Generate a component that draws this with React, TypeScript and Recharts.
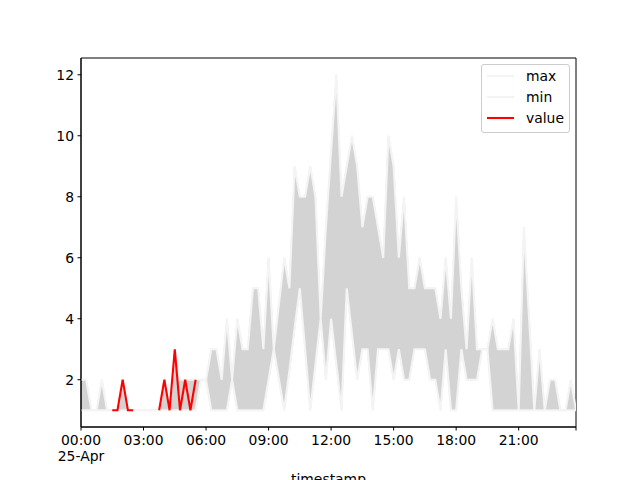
import React from 'react';
import { ComposedChart, Area, Line, XAxis, YAxis, ReferenceArea } from 'recharts';

// 15-minute slots, 25-Apr 00:00 .. 23:45 (index 0..95)
const maxVals = [
  2, 2, 1, 1, 2, 1, 1, 1, 2, 1,
  1, 1, 1, 1, 1, 1, 2, 1, 3, 2,
  2, 2, 2, 2, 2, 3, 3, 2, 4, 2,
  4, 3, 3, 5, 5, 3, 6, 3, 4.5, 6,
  5, 9, 8, 8, 9, 8, 4, 7, 9.5, 12,
  8, 9, 10, 9, 7, 8, 8, 7, 6, 10,
  9, 6, 8, 5, 5, 6, 5, 5, 5, 4,
  6, 4, 8, 5, 3, 6, 3, 3, 3, 4,
  3, 3, 3, 4, 1, 7, 4, 1, 3, 1,
  2, 2, 1, 1, 2, 1,
];

const minVals = [
  1, 1, 1, 1, 1, 1, 1, 1, 1, 1,
  1, 1, 1, 1, 1, 1, 1, 1, 1, 1,
  1, 1, 1, 2, 2, 1, 1, 1, 1, 2,
  1, 1, 1, 1, 1, 1, 2, 3, 2, 1,
  2.3, 3.7, 5, 3, 1, 2.5, 4, 2, 4, 2.5,
  1, 5, 3.5, 2, 3, 3, 1, 3, 3, 3,
  2, 3, 2, 2, 3, 3, 3, 2, 2, 1,
  3, 1, 1, 3, 2, 2, 2, 3, 3, 1,
  1, 1, 1, 1, 1, 1, 1, 1, 1, 1,
  1, 1, 1, 1, 1, 1,
];

const N = null;
const values = [
  N, N, N, N, N, N, 1, 1, 2, 1,
  1, N, N, N, N, 1, 2, 1, 3, 1,
  2, 1, 2, N, N, N, N, N, N, N,
  N, N, N, N, N, N, N, N, N, N,
  N, N, N, N, N, N, N, N, N, N,
  N, N, N, N, N, N, N, N, N, N,
  N, N, N, N, N, N, N, N, N, N,
  N, N, N, N, N, N, N, N, N, N,
  N, N, N, N, N, N, N, N, N, N,
  N, N, N, N, N, N,
];

const xTicks = [0, 12, 24, 36, 48, 60, 72, 84, 95];
const xTickLabels = ['00:00\n25-Apr', '03:00', '06:00', '09:00', '12:00', '15:00', '18:00', '21:00', ''];
const yTicks = [2, 4, 6, 8, 10, 12];
const yDomain = [0.45, 12.55];
const xDomain = [0, 95];

const legendItems = [
  { name: 'max', color: '#f4f4f4' },
  { name: 'min', color: '#f4f4f4' },
  { name: 'value', color: '#ff0000' },
];

const data = maxVals.map((mx, i) => ({
  t: i,
  max: mx,
  min: minVals[i],
  range: [minVals[i], mx],
  value: values[i],
}));

const FONT = 'DejaVu Sans, sans-serif';
const FS = 13.9;

const XTick = (props: any) => {
  const { x, y, payload } = props;
  const idx = xTicks.indexOf(payload.value);
  const label = idx >= 0 ? xTickLabels[idx] : '';
  const lines = label.split('\n');
  return (
    <text x={x} y={y} textAnchor="middle" fontFamily={FONT} fontSize={FS} fill="#000">
      {lines.map((l, k) => (
        <tspan key={k} x={x} dy={k === 0 ? '0.76em' : '1.2em'}>{l}</tspan>
      ))}
    </text>
  );
};

const YTick = (props: any) => {
  const { x, y, payload } = props;
  return (
    <text x={x} y={y} textAnchor="end" dy="0.36em" fontFamily={FONT} fontSize={FS} fill="#000">
      {payload.value}
    </text>
  );
};

const LegendBox = () => (
  <svg width={90} height={70} style={{ display: 'block' }}>
    <rect x={0.5} y={0.5} width={88} height={68} rx={2.5} fill="rgba(255,255,255,0.8)" stroke="#cccccc" />
    {legendItems.map((it, k) => (
      <g key={it.name}>
        <line x1={6} x2={33} y1={12 + k * 21} y2={12 + k * 21} stroke={it.color} strokeWidth={2.08} />
        <text x={45} y={12 + k * 21} dy="0.36em" fontFamily={FONT} fontSize={FS} fill="#000">{it.name}</text>
      </g>
    ))}
  </svg>
);

export default function App() {
  return (
    <div style={{ position: 'absolute', left: 0, top: 0, width: 640, height: 480, background: '#fff', overflow: 'hidden' }}>
      <ComposedChart width={640} height={480} data={data} margin={{ top: 58, right: 64, bottom: 0, left: 31 }}>
        <XAxis
          dataKey="t"
          type="number"
          domain={xDomain}
          ticks={xTicks}
          interval={0}
          tick={<XTick />}
          tickSize={3.5}
          tickMargin={3.5}
          height={53}
          axisLine={{ stroke: '#000', strokeWidth: 1 }}
          tickLine={{ stroke: '#000', strokeWidth: 1 }}
          allowDataOverflow
          label={(p: any) => {
            const vb = p.viewBox || {};
            return (
              <text x={(vb.x ?? 81) + (vb.width ?? 495) / 2} y={484} textAnchor="middle" fontFamily={FONT} fontSize={FS} fill="#000">
                timestamp
              </text>
            );
          }}
        />
        <YAxis
          type="number"
          domain={yDomain}
          ticks={yTicks}
          interval={0}
          tick={<YTick />}
          tickSize={3.5}
          tickMargin={3.5}
          width={50}
          allowDataOverflow
          axisLine={{ stroke: '#000', strokeWidth: 1 }}
          tickLine={{ stroke: '#000', strokeWidth: 1 }}
        />
        <Line dataKey="max" type="linear" stroke="#f4f4f4" strokeWidth={2.08} dot={false} activeDot={false} isAnimationActive={false} />
        <Line dataKey="min" type="linear" stroke="#f4f4f4" strokeWidth={2.08} dot={false} activeDot={false} isAnimationActive={false} />
        <Area dataKey="range" type="linear" fill="#d3d3d3" fillOpacity={1} stroke="#d3d3d3" strokeWidth={1.2} dot={false} activeDot={false} isAnimationActive={false} />
        <Line dataKey="value" type="linear" stroke="#ff0000" strokeWidth={2.08} dot={false} activeDot={false} connectNulls={false} isAnimationActive={false} />
        <ReferenceArea x1={xDomain[0]} x2={xDomain[1]} y1={yDomain[0]} y2={yDomain[1]} fill="none" fillOpacity={0} stroke="#000" strokeWidth={1} ifOverflow="visible" />
      </ComposedChart>
      <div style={{ position: 'absolute', left: 481, top: 64 }}>
        <LegendBox />
      </div>
    </div>
  );
}
